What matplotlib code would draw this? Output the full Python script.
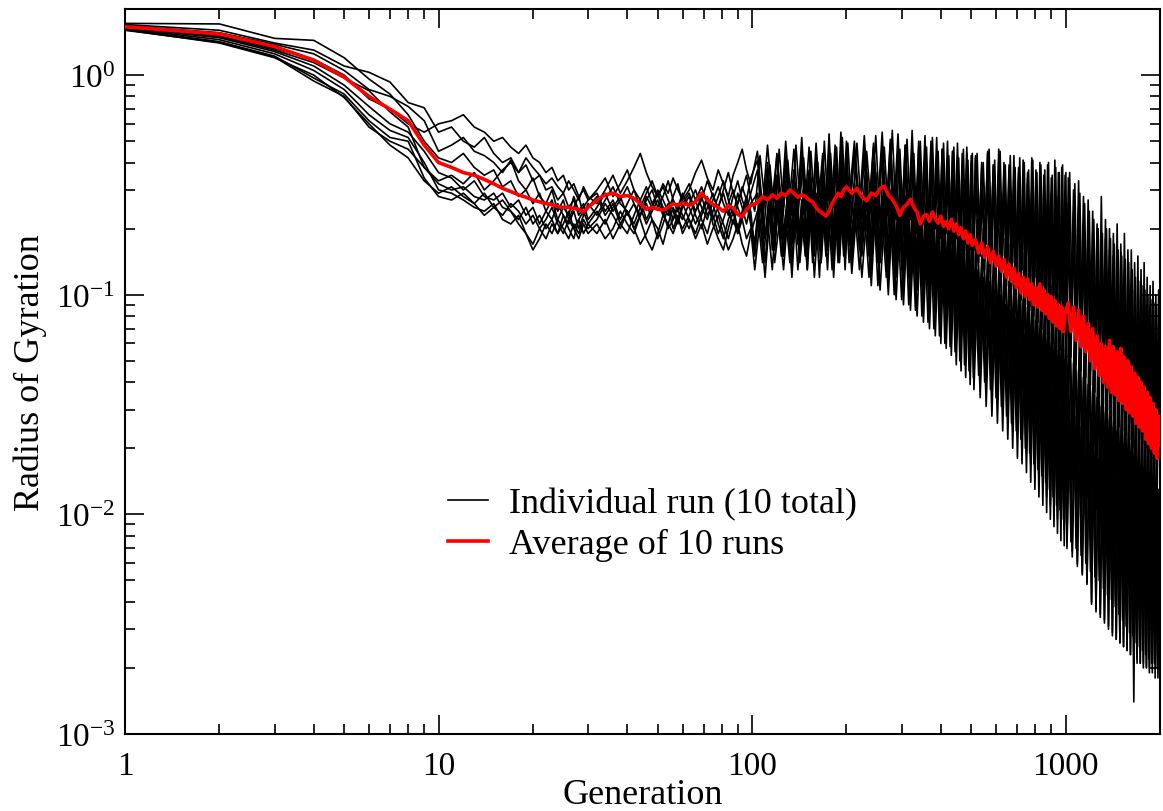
import numpy as np
import matplotlib
matplotlib.use("Agg")
import matplotlib.pyplot as plt

plt.rcParams['font.family'] = ['Liberation Serif', 'DejaVu Serif']
plt.rcParams['mathtext.fontset'] = 'custom'
plt.rcParams['mathtext.rm'] = 'Liberation Serif'
plt.rcParams['mathtext.it'] = 'Liberation Serif:italic'
plt.rcParams['axes.unicode_minus'] = False

# generations that were sampled (denser early, coarser late);
# even-numbered runs were sampled half a step earlier in the late part
gens_a = np.concatenate([np.arange(1, 31), np.arange(32, 61, 2), np.arange(63, 100, 3),
                         np.arange(104, 205, 4), np.arange(212, 509, 8),
                         np.arange(516, 1009, 12), np.arange(1020, 2001, 20)])
gens_b = np.concatenate([np.arange(1, 31), np.arange(32, 61, 2), np.arange(63, 100, 3),
                         np.arange(102, 203, 4), np.arange(208, 505, 8),
                         np.arange(510, 1003, 12), np.arange(1010, 1991, 20)])
gens_avg = np.concatenate([np.arange(1, 31), np.arange(32, 61, 2), np.arange(63, 100, 3),
                           np.arange(104, 201, 4), np.arange(208, 505, 8),
                           np.arange(516, 997, 12), np.arange(1020, 2001, 20)])

run_01 = [1.72,1.71,1.47,1.44,1.20,0.96,0.82,0.66,0.50,0.42,0.40,0.44,0.38,0.35,0.37,0.31,0.33,0.28,0.30,0.26,0.29,0.24,0.27,0.22,0.25,0.23,0.28,0.24,0.26,0.22,
    0.25,0.29,0.24,0.27,0.31,0.26,0.23,0.28,0.25,0.30,0.27,0.24,0.28,0.32,0.26,
    0.29,0.24,0.27,0.33,0.28,0.25,0.30,0.36,0.29,0.26,0.31,0.27,0.34,
    0.41,0.23,0.36,0.21,0.44,0.25,0.38,0.22,0.34,0.24,0.45,0.23,0.37,0.26,0.42,0.22,0.39,0.25,0.47,0.24,0.36,0.27,0.43,0.23,0.40,0.23,
    0.46,0.22,0.41,0.24,0.49,0.21,0.44,0.23,0.51,0.22,0.43,0.20,0.48,0.22,0.40,0.19,0.47,0.21,0.44,0.18,0.50,0.20,0.42,0.18,0.46,0.17,0.41,0.19,0.45,0.16,0.43,0.17,0.39,0.16,0.44,0.15,0.40,0.16,
    0.42,0.16,0.38,0.17,0.44,0.15,0.39,0.16,0.46,0.15,0.40,0.14,0.37,0.15,0.43,0.13,0.38,0.14,0.41,0.12,0.36,0.13,0.42,0.12,0.37,0.11,0.40,0.12,0.35,0.10,0.39,0.11,0.34,0.10,0.41,0.095,0.36,0.10,0.38,0.09,0.35,0.09,
    0.34,0.085,0.30,0.08,0.33,0.075,0.28,0.07,0.27,0.065,0.24,0.058,0.21,0.055,0.28,0.052,0.22,0.05,0.20,0.048,0.19,0.045,0.21,0.042,0.17,0.04,0.19,0.038,0.16,0.036,
    0.16,0.034,0.14,0.032,0.15,0.03,0.13,0.028,0.14,0.027,0.12,0.026,0.11,0.025,0.115,0.024,0.10,0.023,0.105,0.05]
run_02 = [1.70,1.60,1.40,1.30,1.10,1.03,0.93,0.75,0.71,0.55,0.58,0.50,0.47,0.52,0.44,0.40,0.42,0.36,0.39,0.33,0.35,0.30,0.31,0.27,0.29,0.25,0.27,0.23,0.25,0.27,
    0.29,0.24,0.27,0.22,0.26,0.30,0.25,0.21,0.24,0.27,0.23,0.26,0.22,0.25,0.29,
    0.25,0.21,0.24,0.28,0.23,0.19,0.22,0.26,0.30,0.25,0.22,0.27,0.24,
    0.16,0.29,0.18,0.32,0.17,0.27,0.15,0.31,0.19,0.28,0.16,0.33,0.18,0.26,0.17,0.30,0.19,0.34,0.16,0.29,0.18,0.31,0.17,0.35,0.19,0.33,
    0.16,0.34,0.17,0.31,0.15,0.36,0.16,0.30,0.14,0.33,0.15,0.29,0.13,0.31,0.14,0.27,0.12,0.29,0.13,0.26,0.11,0.27,0.12,0.24,0.105,0.25,0.11,0.22,0.095,0.23,0.10,0.21,0.088,0.20,0.085,0.19,0.08,0.18,
    0.075,0.19,0.07,0.17,0.065,0.18,0.06,0.16,0.055,0.155,0.05,0.14,0.048,0.13,0.044,0.125,0.04,0.115,0.037,0.11,0.034,0.10,0.031,0.095,0.029,0.09,0.027,0.085,0.025,0.08,0.023,0.075,0.021,0.072,0.02,0.068,0.019,0.065,0.018,0.06,0.017,0.06,
    0.016,0.066,0.015,0.06,0.014,0.055,0.013,0.05,0.012,0.046,0.011,0.042,0.0105,0.038,0.0098,0.036,0.0092,0.034,0.0086,0.032,0.0078,0.03,0.0072,0.028,0.0068,0.026,0.0064,0.024,0.006,0.023,
    0.0055,0.021,0.0052,0.02,0.0049,0.019,0.0046,0.018,0.0044,0.017,0.0041,0.016,0.0038,0.015,0.0036,0.014,0.0034,0.0135,0.0032,0.007]
run_03 = [1.68,1.56,1.38,1.25,1.05,0.86,0.80,0.72,0.62,0.45,0.48,0.52,0.45,0.43,0.40,0.36,0.41,0.33,0.30,0.34,0.28,0.26,0.30,0.24,0.27,0.22,0.25,0.28,0.23,0.26,
    0.23,0.27,0.31,0.26,0.24,0.20,0.23,0.27,0.30,0.25,0.28,0.33,0.27,0.24,0.22,
    0.26,0.30,0.25,0.22,0.27,0.31,0.26,0.23,0.28,0.33,0.27,0.24,0.29,
    0.37,0.21,0.40,0.23,0.35,0.20,0.43,0.24,0.37,0.22,0.41,0.25,0.36,0.21,0.44,0.23,0.38,0.26,0.42,0.22,0.39,0.24,0.46,0.23,0.40,0.23,
    0.43,0.21,0.46,0.20,0.40,0.22,0.48,0.20,0.42,0.19,0.45,0.21,0.39,0.18,0.47,0.19,0.41,0.17,0.44,0.18,0.38,0.16,0.43,0.17,0.37,0.16,0.41,0.15,0.36,0.16,0.40,0.14,0.35,0.15,0.38,0.14,0.34,0.14,
    0.35,0.14,0.32,0.13,0.37,0.125,0.33,0.12,0.36,0.12,0.31,0.11,0.34,0.105,0.30,0.10,0.33,0.095,0.29,0.09,0.32,0.088,0.28,0.085,0.31,0.08,0.27,0.078,0.30,0.075,0.26,0.072,0.29,0.07,0.25,0.068,0.28,0.066,0.24,0.065,0.27,0.065,
    0.26,0.062,0.24,0.058,0.25,0.055,0.21,0.05,0.22,0.045,0.19,0.042,0.20,0.04,0.17,0.038,0.18,0.036,0.16,0.034,0.15,0.032,0.14,0.03,0.155,0.029,0.13,0.028,0.12,0.026,
    0.11,0.024,0.105,0.023,0.115,0.022,0.098,0.021,0.095,0.02,0.088,0.019,0.082,0.018,0.078,0.017,0.075,0.0165,0.072,0.035]
run_04 = [1.66,1.52,1.32,1.18,1.00,0.78,0.70,0.60,0.55,0.60,0.62,0.66,0.58,0.55,0.50,0.52,0.47,0.44,0.48,0.42,0.40,0.36,0.38,0.33,0.35,0.30,0.32,0.28,0.30,0.27,
    0.30,0.34,0.28,0.32,0.37,0.30,0.27,0.31,0.26,0.29,0.25,0.23,0.27,0.24,0.28,
    0.32,0.27,0.31,0.26,0.22,0.25,0.29,0.24,0.21,0.26,0.30,0.35,0.28,
    0.24,0.43,0.26,0.39,0.22,0.46,0.25,0.41,0.23,0.48,0.27,0.42,0.24,0.45,0.26,0.40,0.23,0.50,0.27,0.44,0.25,0.47,0.24,0.52,0.28,0.49,
    0.23,0.49,0.22,0.45,0.24,0.53,0.21,0.47,0.23,0.56,0.22,0.46,0.20,0.51,0.22,0.44,0.19,0.50,0.21,0.47,0.18,0.52,0.20,0.45,0.18,0.49,0.19,0.43,0.17,0.47,0.18,0.42,0.16,0.46,0.17,0.41,0.16,0.44,
    0.16,0.44,0.15,0.40,0.17,0.46,0.15,0.41,0.14,0.45,0.15,0.39,0.13,0.43,0.14,0.38,0.12,0.42,0.13,0.40,0.12,0.37,0.11,0.41,0.12,0.36,0.10,0.39,0.11,0.37,0.10,0.40,0.095,0.35,0.10,0.38,0.09,0.36,0.095,0.39,0.09,0.36,
    0.085,0.36,0.08,0.32,0.075,0.29,0.07,0.26,0.06,0.24,0.055,0.22,0.052,0.20,0.05,0.19,0.046,0.20,0.044,0.18,0.04,0.17,0.038,0.16,0.036,0.15,0.034,0.145,0.032,0.14,
    0.03,0.13,0.028,0.12,0.027,0.115,0.026,0.11,0.025,0.105,0.024,0.10,0.023,0.095,0.022,0.092,0.021,0.088,0.02,0.045]
run_05 = [1.66,1.50,1.30,1.14,0.97,0.85,0.68,0.58,0.38,0.32,0.30,0.31,0.28,0.27,0.29,0.25,0.24,0.22,0.25,0.21,0.23,0.20,0.22,0.19,0.21,0.24,0.20,0.22,0.19,0.21,
    0.19,0.22,0.18,0.21,0.24,0.20,0.17,0.19,0.22,0.18,0.21,0.25,0.20,0.23,0.19,
    0.22,0.18,0.21,0.17,0.20,0.23,0.19,0.16,0.18,0.21,0.17,0.15,0.19,
    0.24,0.14,0.22,0.13,0.26,0.15,0.23,0.14,0.25,0.13,0.22,0.15,0.27,0.14,0.23,0.12,0.25,0.15,0.22,0.13,0.26,0.14,0.24,0.15,0.23,0.14,
    0.26,0.13,0.24,0.12,0.27,0.11,0.22,0.12,0.24,0.10,0.21,0.095,0.23,0.09,0.19,0.085,0.21,0.08,0.18,0.075,0.19,0.07,0.165,0.065,0.17,0.06,0.15,0.058,0.155,0.055,0.135,0.05,0.14,0.048,0.12,0.045,0.125,0.042,
    0.11,0.043,0.10,0.04,0.105,0.037,0.09,0.034,0.095,0.031,0.08,0.028,0.085,0.026,0.072,0.024,0.075,0.022,0.065,0.02,0.068,0.019,0.058,0.017,0.06,0.016,0.052,0.015,0.054,0.014,0.047,0.013,0.045,0.012,0.042,0.011,0.04,0.0105,0.036,0.0095,0.034,0.009,
    0.035,0.0075,0.032,0.007,0.03,0.0065,0.027,0.006,0.025,0.0055,0.024,0.0052,0.022,0.005,0.021,0.0046,0.02,0.0043,0.019,0.0041,0.017,0.0038,0.016,0.0035,0.0155,0.0033,0.015,0.0031,0.014,0.0029,
    0.0135,0.0028,0.013,0.0026,0.012,0.0025,0.0118,0.0024,0.0112,0.0023,0.011,0.0022,0.0105,0.0021,0.01,0.0021,0.0098,0.002,0.0095,0.0045]
run_06 = [1.64,1.48,1.28,1.10,0.90,0.72,0.60,0.55,0.45,0.36,0.34,0.30,0.33,0.28,0.27,0.29,0.25,0.27,0.23,0.25,0.21,0.24,0.22,0.26,0.23,0.21,0.24,0.20,0.23,0.25,
    0.28,0.23,0.26,0.21,0.19,0.23,0.27,0.22,0.25,0.29,0.24,0.20,0.22,0.26,0.23,
    0.20,0.24,0.28,0.23,0.26,0.21,0.18,0.22,0.25,0.20,0.24,0.28,0.22,
    0.17,0.31,0.18,0.28,0.16,0.33,0.19,0.29,0.17,0.32,0.18,0.30,0.16,0.34,0.19,0.28,0.17,0.31,0.18,0.35,0.17,0.30,0.19,0.33,0.18,0.32,
    0.17,0.33,0.18,0.36,0.16,0.31,0.17,0.34,0.15,0.30,0.16,0.32,0.14,0.29,0.15,0.31,0.13,0.28,0.14,0.30,0.12,0.27,0.13,0.25,0.12,0.27,0.11,0.24,0.12,0.25,0.10,0.23,0.11,0.22,0.095,0.23,0.10,0.21,
    0.09,0.22,0.085,0.20,0.08,0.23,0.075,0.19,0.07,0.20,0.066,0.18,0.062,0.17,0.058,0.18,0.054,0.16,0.05,0.155,0.047,0.145,0.044,0.14,0.041,0.13,0.039,0.125,0.036,0.12,0.034,0.115,0.032,0.11,0.03,0.105,0.028,0.10,0.027,0.098,0.025,0.095,
    0.024,0.10,0.022,0.092,0.021,0.085,0.019,0.08,0.018,0.074,0.017,0.068,0.016,0.064,0.015,0.06,0.014,0.056,0.0135,0.052,0.0125,0.05,0.012,0.047,0.011,0.044,0.0105,0.042,0.01,0.04,
    0.0095,0.037,0.009,0.035,0.0085,0.033,0.008,0.031,0.0076,0.03,0.0072,0.028,0.0068,0.027,0.0065,0.026,0.0062,0.025,0.006,0.012]
run_07 = [1.63,1.45,1.25,1.05,0.86,0.66,0.56,0.52,0.40,0.30,0.29,0.27,0.25,0.24,0.26,0.22,0.21,0.23,0.19,0.17,0.20,0.18,0.21,0.19,0.23,0.20,0.18,0.22,0.24,0.21,
    0.24,0.21,0.25,0.28,0.23,0.26,0.22,0.18,0.16,0.19,0.23,0.21,0.25,0.22,0.20,
    0.23,0.27,0.22,0.19,0.24,0.28,0.33,0.27,0.23,0.29,0.25,0.21,0.26,
    0.29,0.17,0.31,0.16,0.28,0.18,0.33,0.16,0.30,0.17,0.27,0.15,0.32,0.18,0.29,0.16,0.31,0.17,0.34,0.16,0.28,0.18,0.32,0.17,0.30,0.17,
    0.32,0.16,0.29,0.15,0.33,0.14,0.28,0.15,0.30,0.13,0.26,0.14,0.28,0.12,0.25,0.12,0.27,0.11,0.23,0.11,0.24,0.10,0.21,0.095,0.22,0.09,0.19,0.085,0.20,0.08,0.18,0.075,0.17,0.07,0.175,0.068,0.16,0.065,
    0.16,0.062,0.15,0.057,0.155,0.052,0.14,0.048,0.13,0.044,0.125,0.04,0.115,0.037,0.11,0.034,0.10,0.031,0.095,0.028,0.088,0.026,0.082,0.024,0.076,0.022,0.07,0.02,0.066,0.018,0.062,0.017,0.058,0.016,0.055,0.015,0.052,0.014,0.05,0.013,0.048,0.0125,
    0.053,0.011,0.049,0.0105,0.045,0.0098,0.042,0.009,0.039,0.0085,0.036,0.008,0.034,0.0075,0.031,0.007,0.029,0.0066,0.027,0.0062,0.025,0.0058,0.024,0.0055,0.022,0.0052,0.021,0.0049,0.02,0.0046,
    0.019,0.0043,0.018,0.004,0.017,0.0038,0.0165,0.0036,0.016,0.0034,0.015,0.0032,0.0145,0.003,0.014,0.0029,0.0135,0.0028,0.013,0.006]
run_08 = [1.62,1.42,1.22,0.97,0.82,0.62,0.52,0.50,0.34,0.28,0.27,0.29,0.26,0.23,0.25,0.27,0.24,0.21,0.19,0.16,0.18,0.21,0.19,0.22,0.20,0.18,0.21,0.19,0.22,0.20,
    0.22,0.26,0.23,0.20,0.24,0.21,0.25,0.29,0.33,0.28,0.31,0.27,0.24,0.21,0.25,
    0.28,0.23,0.20,0.25,0.29,0.24,0.21,0.18,0.22,0.19,0.23,0.26,0.21,
    0.15,0.27,0.14,0.26,0.16,0.29,0.15,0.25,0.14,0.28,0.16,0.27,0.13,0.30,0.15,0.26,0.14,0.29,0.16,0.27,0.13,0.28,0.15,0.31,0.14,0.29,
    0.14,0.29,0.15,0.27,0.13,0.30,0.14,0.25,0.12,0.27,0.12,0.24,0.11,0.25,0.10,0.22,0.105,0.23,0.095,0.21,0.09,0.20,0.085,0.19,0.08,0.18,0.075,0.17,0.07,0.165,0.065,0.15,0.06,0.145,0.056,0.14,0.052,0.13,
    0.05,0.13,0.046,0.12,0.042,0.115,0.038,0.105,0.035,0.10,0.031,0.09,0.028,0.085,0.025,0.078,0.023,0.072,0.021,0.066,0.019,0.06,0.017,0.055,0.015,0.05,0.014,0.046,0.013,0.043,0.012,0.04,0.011,0.037,0.0105,0.035,0.0095,0.032,0.009,0.03,0.0085,0.029,
    0.0075,0.031,0.0068,0.028,0.006,0.025,0.0054,0.023,0.0049,0.021,0.0039,0.019,0.0036,0.017,0.0034,0.016,0.0032,0.015,0.003,0.014,0.0028,0.013,0.0027,0.0125,0.0026,0.012,0.0025,0.0115,0.0024,0.011,
    0.0023,0.0105,0.0014,0.01,0.0021,0.0098,0.0021,0.0095,0.002,0.0092,0.002,0.009,0.0019,0.0088,0.0019,0.0086,0.0018,0.0084,0.0018,0.004]
run_09 = [1.60,1.41,1.21,0.94,0.80,0.58,0.50,0.46,0.38,0.33,0.35,0.32,0.36,0.30,0.33,0.37,0.40,0.36,0.42,0.38,0.35,0.32,0.34,0.31,0.29,0.33,0.30,0.27,0.31,0.28,
    0.26,0.30,0.35,0.29,0.33,0.38,0.44,0.36,0.31,0.28,0.32,0.29,0.34,0.30,0.27,
    0.30,0.36,0.41,0.34,0.30,0.37,0.32,0.28,0.35,0.40,0.46,0.37,0.32,
    0.45,0.25,0.48,0.27,0.43,0.24,0.50,0.28,0.46,0.26,0.52,0.27,0.47,0.25,0.49,0.29,0.44,0.26,0.54,0.28,0.48,0.27,0.55,0.29,0.50,0.27,
    0.50,0.25,0.53,0.24,0.47,0.26,0.55,0.23,0.49,0.25,0.54,0.22,0.48,0.24,0.56,0.21,0.50,0.23,0.53,0.20,0.47,0.22,0.52,0.19,0.46,0.21,0.50,0.18,0.45,0.20,0.49,0.17,0.44,0.19,0.47,0.17,0.43,0.18,
    0.43,0.17,0.40,0.16,0.45,0.15,0.39,0.14,0.41,0.13,0.37,0.12,0.39,0.11,0.35,0.10,0.36,0.095,0.33,0.09,0.34,0.085,0.31,0.08,0.32,0.075,0.29,0.07,0.30,0.066,0.27,0.063,0.28,0.06,0.26,0.058,0.25,0.056,0.23,0.055,0.22,0.052,
    0.22,0.052,0.20,0.048,0.19,0.045,0.175,0.042,0.16,0.039,0.15,0.036,0.14,0.034,0.13,0.032,0.125,0.03,0.12,0.028,0.11,0.026,0.105,0.025,0.10,0.024,0.095,0.023,0.09,0.022,
    0.085,0.02,0.08,0.019,0.076,0.018,0.072,0.017,0.069,0.016,0.066,0.015,0.063,0.0145,0.06,0.014,0.058,0.0135,0.056,0.028]
run_10 = [1.61,1.40,1.20,1.00,0.79,0.60,0.48,0.42,0.33,0.29,0.31,0.28,0.26,0.29,0.25,0.23,0.26,0.24,0.21,0.23,0.20,0.22,0.25,0.21,0.19,0.22,0.20,0.18,0.21,0.19,
    0.21,0.18,0.20,0.24,0.21,0.19,0.23,0.26,0.22,0.20,0.17,0.21,0.19,0.22,0.26,
    0.22,0.19,0.23,0.27,0.21,0.18,0.16,0.20,0.24,0.19,0.22,0.18,0.20,
    0.13,0.22,0.12,0.24,0.14,0.21,0.13,0.23,0.12,0.25,0.14,0.22,0.13,0.24,0.12,0.21,0.14,0.23,0.13,0.25,0.12,0.22,0.14,0.24,0.13,0.24,
    0.125,0.25,0.12,0.23,0.11,0.26,0.105,0.22,0.10,0.23,0.095,0.21,0.09,0.20,0.085,0.19,0.08,0.185,0.075,0.17,0.07,0.165,0.065,0.15,0.06,0.145,0.057,0.13,0.053,0.125,0.048,0.115,0.045,0.11,0.042,0.10,0.039,0.095,
    0.037,0.095,0.034,0.088,0.031,0.082,0.028,0.076,0.026,0.07,0.024,0.065,0.022,0.06,0.02,0.056,0.018,0.052,0.017,0.048,0.0155,0.045,0.014,0.042,0.013,0.039,0.012,0.036,0.011,0.034,0.0102,0.032,0.0095,0.03,0.0088,0.029,0.0082,0.027,0.0076,0.026,0.0072,0.025,
    0.007,0.027,0.0064,0.025,0.0058,0.023,0.0053,0.021,0.0048,0.02,0.004,0.019,0.0037,0.018,0.0035,0.017,0.0033,0.016,0.0031,0.015,0.0029,0.0145,0.0027,0.014,0.0026,0.0135,0.0025,0.013,0.0024,0.0125,
    0.0023,0.012,0.0022,0.0115,0.0022,0.011,0.0021,0.0108,0.0021,0.0105,0.002,0.0102,0.002,0.01,0.0021,0.0098,0.0022,0.0095,0.0023,0.004]

avg_runs = [1.66,1.54,1.35,1.17,0.98,0.80,0.70,0.62,0.48,0.40,0.38,0.36,0.35,0.335,0.32,0.305,0.295,0.285,0.278,0.27,0.265,0.26,0.257,0.252,0.25,0.25,0.247,0.245,0.238,0.25,
    0.27,0.285,0.29,0.28,0.283,0.275,0.26,0.245,0.25,0.245,0.243,0.25,0.26,0.255,0.262,
    0.255,0.265,0.29,0.27,0.258,0.25,0.24,0.255,0.248,0.232,0.226,0.245,0.255,
    0.262,0.28,0.27,0.285,0.275,0.29,0.283,0.30,0.29,0.278,0.285,0.28,0.27,0.265,0.25,0.24,0.235,0.228,0.24,0.26,0.275,0.29,0.28,0.30,0.31,
    0.29,0.305,0.28,0.268,0.29,0.283,0.305,0.312,0.285,0.272,0.255,0.23,0.25,0.258,0.272,0.25,0.238,0.21,0.228,0.232,0.216,0.238,0.222,0.212,0.228,0.205,0.215,0.2,0.22,0.195,0.21,0.188,0.202,0.18,0.195,0.172,0.188,0.168,
    0.178,0.155,0.172,0.148,0.165,0.14,0.158,0.135,0.15,0.128,0.145,0.12,0.138,0.115,0.132,0.108,0.125,0.102,0.12,0.098,0.118,0.095,0.112,0.09,0.108,0.088,0.112,0.085,0.105,0.082,0.1,0.078,0.098,0.075,0.094,0.072,0.09,0.07,0.088,0.068,0.082,
    0.092,0.068,0.088,0.062,0.085,0.058,0.08,0.055,0.074,0.05,0.07,0.046,0.065,0.043,0.06,0.04,0.058,0.038,0.062,0.036,0.058,0.035,0.055,0.033,0.057,0.032,0.052,0.03,0.05,0.029,
    0.047,0.028,0.044,0.026,0.042,0.025,0.04,0.024,0.038,0.022,0.036,0.021,0.034,0.02,0.032,0.019,0.03,0.018,0.028,0.021]

runs = [run_01, run_02, run_03, run_04, run_05, run_06, run_07, run_08, run_09, run_10]

fig = plt.figure(figsize=(11.63, 8.12), dpi=100)
ax = fig.add_axes([125/1163, 1-735/812, 1035/1163, 725/812])

for i, r in enumerate(runs):
    g = gens_a if i % 2 == 0 else gens_b
    ax.plot(g, r, color='black', lw=1.2, label='Individual run (10 total)' if i == 0 else None, zorder=2)
ax.plot(gens_avg, avg_runs, color='red', lw=2.6, label='Average of 10 runs', zorder=3)

ax.set_xscale('log')
ax.set_yscale('log')
ax.set_xlim(1, 2000)
ax.set_ylim(1e-3, 2.0)
ax.set_xticks([1, 10, 100, 1000])
ax.set_xticklabels(['1', '10', '100', '1000'])

for s in ax.spines.values():
    s.set_linewidth(1.5)
ax.tick_params(which='both', direction='in', top=True, right=True, width=1.2)
ax.tick_params(which='major', length=14, labelsize=24)
ax.tick_params(which='minor', length=7)
ax.tick_params(axis='x', which='major', pad=12)
ax.tick_params(axis='y', which='major', pad=7)

ax.set_xlabel('Generation', fontsize=26, labelpad=-2)
ax.set_ylabel('Radius of Gyration', fontsize=26, labelpad=6)

leg = ax.legend(loc='upper left', bbox_to_anchor=(448/1163, 1-488/812), bbox_transform=fig.transFigure,
                frameon=False, fontsize=26, handlelength=1.1, handletextpad=0.6,
                borderpad=0, borderaxespad=0, labelspacing=0.22)

fig.savefig('out.png', dpi=100)
